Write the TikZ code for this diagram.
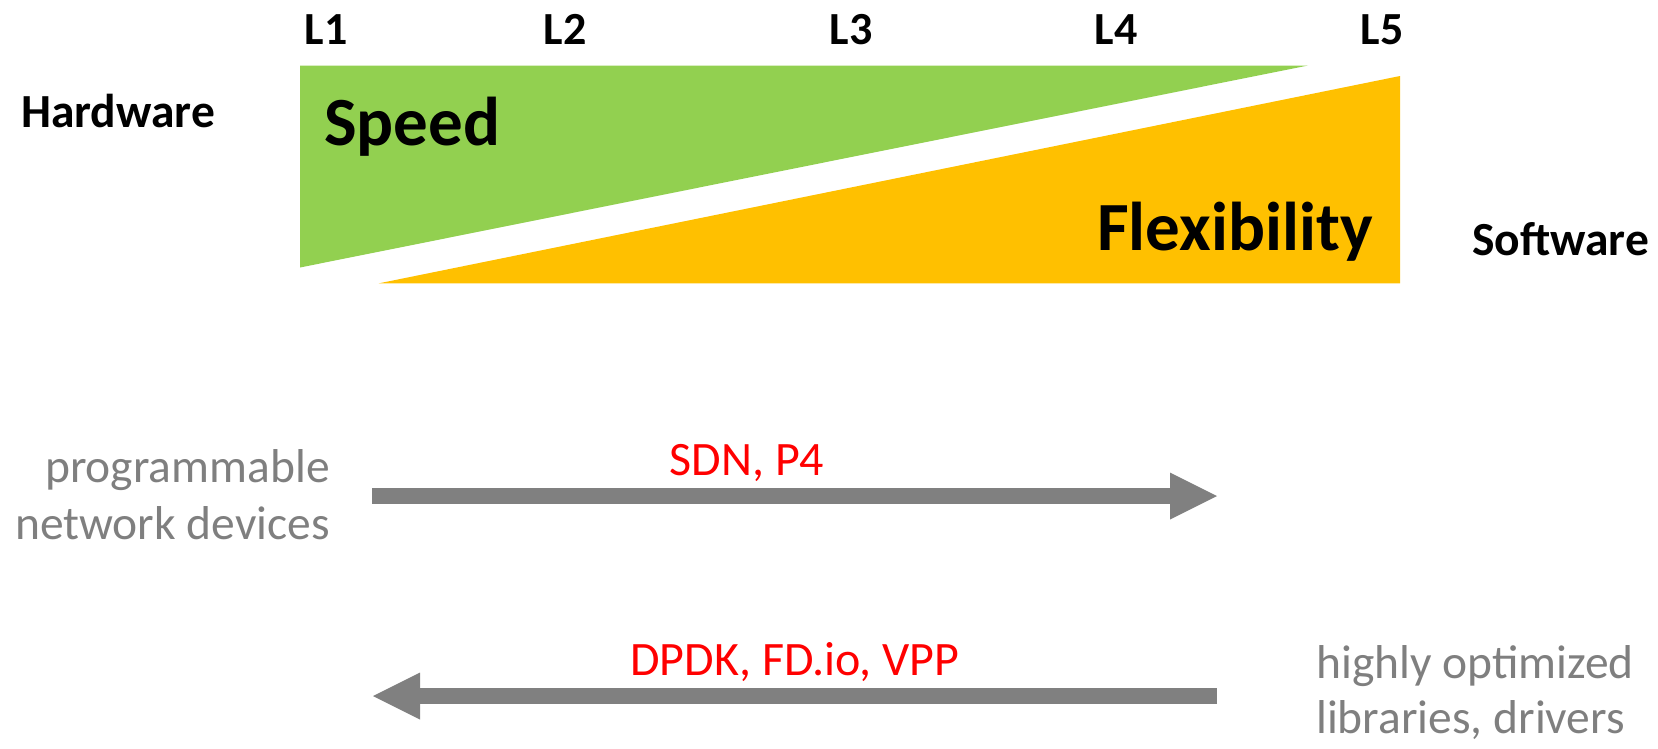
\documentclass[tikz,border=0pt]{standalone}
\usepackage{fontspec}
\setmainfont{Carlito}
\usetikzlibrary{arrows.meta}
\definecolor{hwgreen}{HTML}{92D050}
\definecolor{swgold}{HTML}{FFC000}
\definecolor{arrgray}{HTML}{808080}
\definecolor{txtgray}{HTML}{7F7F7F}
\definecolor{techred}{HTML}{FF0000}
\begin{document}
\begin{tikzpicture}[x=1pt,y=-1pt,
  lvl/.style={font=\fontsize{46}{55}\selectfont\bfseries, inner sep=0pt, anchor=base},
  side/.style={font=\fontsize{47.5}{57}\selectfont\bfseries, inner sep=0pt},
  big/.style={font=\fontsize{69}{80}\selectfont\bfseries, inner sep=0pt, anchor=base west},
  note/.style={font=\fontsize{47.5}{57}\selectfont, text=txtgray, inner sep=0pt},
  tech/.style={font=\fontsize{48}{58}\selectfont, text=techred, inner sep=0pt, anchor=base},
  blockarrow/.style={draw=arrgray, line width=16pt, -{Triangle[length=47pt,width=47pt,line width=0pt]}}]
\useasboundingbox (0,0) rectangle (1658,748);
% wedges
\fill[hwgreen] (300,65.5) -- (1308,65.5) -- (300,267.5) -- cycle;
\fill[swgold] (378.5,283.4) -- (1400,283.4) -- (1400,76) -- cycle;
% level labels
\node[lvl] (L1) at (326,44) {L1};
\node[lvl] (L2) at (565,44) {L2};
\node[lvl] (L3) at (851,44) {L3};
\node[lvl] (L4) at (1116,44) {L4};
\node[lvl] (L5) at (1382,44) {L5};
% side labels
\node[side, anchor=base west] (hw) at (21,127) {Hardware};
\node[side, anchor=base west] (sw) at (1472,255) {Software};
\node[big] (speed) at (324,145) {Speed};
\node[big] (flex) at (1097,250) {Flexibility};
% arrows
\coordinate (a1s) at (372,496);
\coordinate (a1e) at (1217,496);
\draw[blockarrow] (a1s) -- (a1e);
\coordinate (a2s) at (1217,696);
\coordinate (a2e) at (373,696);
\draw[blockarrow] (a2s) -- (a2e);
% arrow labels
\node[tech] (sdn) at (747,475) {SDN, P4};
\node[tech] (dpdk) at (795,675) {DPDK, FD.io, VPP};
\node[note, anchor=base east] (prog1) at (330,482) {programmable};
\node[note, anchor=base east] (prog2) at (330,539) {network devices};
\node[note, anchor=base west] (lib1) at (1316,678) {highly optimized};
\node[note, anchor=base west] (lib2) at (1316,733) {libraries, drivers};
\end{tikzpicture}
\end{document}
